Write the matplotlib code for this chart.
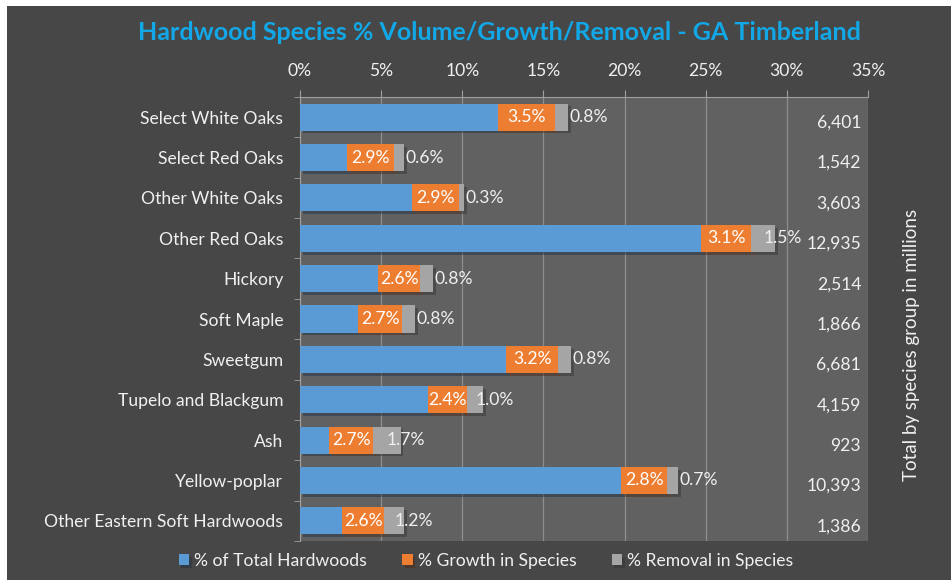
import matplotlib.pyplot as plt
import matplotlib.patheffects as pe
from matplotlib.patches import Rectangle
import numpy as np

# data
species = ['Select White Oaks', 'Select Red Oaks', 'Other White Oaks', 'Other Red Oaks',
           'Hickory', 'Soft Maple', 'Sweetgum', 'Tupelo and Blackgum', 'Ash',
           'Yellow-poplar', 'Other Eastern Soft Hardwoods']
pct_total = [12.2, 2.9, 6.9, 24.7, 4.8, 3.6, 12.7, 7.9, 1.8, 19.8, 2.6]
pct_growth = [3.5, 2.9, 2.9, 3.1, 2.6, 2.7, 3.2, 2.4, 2.7, 2.8, 2.6]
pct_removal = [0.8, 0.6, 0.3, 1.5, 0.8, 0.8, 0.8, 1.0, 1.7, 0.7, 1.2]
totals = ['6,401', '1,542', '3,603', '12,935', '2,514', '1,866', '6,681',
          '4,159', '923', '10,393', '1,386']

plt.rcParams['font.family'] = ['Lato', 'DejaVu Sans']
TXT = '#f0f0f0'
BG = '#474747'
PLOT_BG = '#616161'
FS = 12.6

fig = plt.figure(figsize=(9.51, 5.80), dpi=100, facecolor='white')
fig.patches.append(Rectangle((7 / 951, 0), 1, 1 - 6 / 580, transform=fig.transFigure,
                             facecolor=BG, edgecolor='none', zorder=-10))
ax = fig.add_axes([300 / 951, 1 - 541 / 580, 568 / 951, 444 / 580])
ax.set_facecolor(PLOT_BG)

y = np.arange(len(species))
h = 0.67
shadow = [pe.SimplePatchShadow(offset=(2, -2), alpha=0.45), pe.Normal()]
b1 = ax.barh(y, pct_total, height=h, color='#5b9bd5', label='% of Total Hardwoods', zorder=3)
b2 = ax.barh(y, pct_growth, left=pct_total, height=h, color='#ed7d31',
             label='% Growth in Species', zorder=3)
left3 = np.array(pct_total) + np.array(pct_growth)
b3 = ax.barh(y, pct_removal, left=left3, height=h, color='#a5a5a5',
             label='% Removal in Species', zorder=3)
for bars in (b1, b2, b3):
    for r in bars:
        r.set_path_effects(shadow)

# labels
for i in range(len(species)):
    gx = pct_total[i] + pct_growth[i] / 2
    ax.text(gx, y[i], f'{pct_growth[i]:.1f}%', ha='center', va='center',
            color='white', fontsize=FS, zorder=5)
    w = pct_removal[i]
    rx = left3[i] + w / 2 if w >= 1.0 else left3[i] + w + 0.1
    ax.text(rx, y[i], f'{w:.1f}%', ha='left', va='center', color=TXT,
            fontsize=FS, zorder=5)
    ax.annotate(totals[i], xy=(0.988, y[i]), xycoords=ax.get_yaxis_transform(),
                xytext=(0, -4), textcoords='offset points', ha='right', va='center',
                color=TXT, fontsize=FS)

ax.set_xlim(0, 35)
ax.set_ylim(len(species) - 0.5, -0.5)
ax.xaxis.tick_top()
ax.set_xticks(np.arange(0, 36, 5))
ax.set_xticklabels([f'{v}%' for v in range(0, 36, 5)])
ax.tick_params(axis='x', colors='#a0a0a0', labelcolor=TXT, labelsize=FS, length=5, pad=8)
ax.set_yticks(y)
ax.set_yticklabels(species)
ax.tick_params(axis='y', which='major', length=0, labelcolor=TXT, labelsize=FS, pad=12)
ax.set_yticks(np.arange(-0.5, len(species)), minor=True)
ax.tick_params(axis='y', which='minor', length=4, color='#a0a0a0')
ax.grid(axis='x', color='#8e8e8e', linewidth=0.9, zorder=0)
for s in ['bottom', 'right']:
    ax.spines[s].set_visible(False)
for s in ['top', 'left']:
    ax.spines[s].set_color('#a0a0a0')

fig.text(499 / 951, 1 - 32 / 580, 'Hardwood Species % Volume/Growth/Removal - GA Timberland',
         ha='center', va='center', color='#12a7e6', fontsize=18, fontweight='bold')
fig.text(912 / 951, 1 - 345 / 580, 'Total by species group in millions', rotation=90,
         ha='center', va='center', color=TXT, fontsize=13.5)

fig.legend(handles=[b1, b2, b3], loc='center', bbox_to_anchor=(486 / 951, 1 - 561 / 580),
           ncol=3, frameon=False, fontsize=FS, labelcolor=TXT, handlelength=0.6,
           handleheight=0.6, handletextpad=0.3, columnspacing=2.0)

fig.savefig('out.png', dpi=100, facecolor=fig.get_facecolor())
